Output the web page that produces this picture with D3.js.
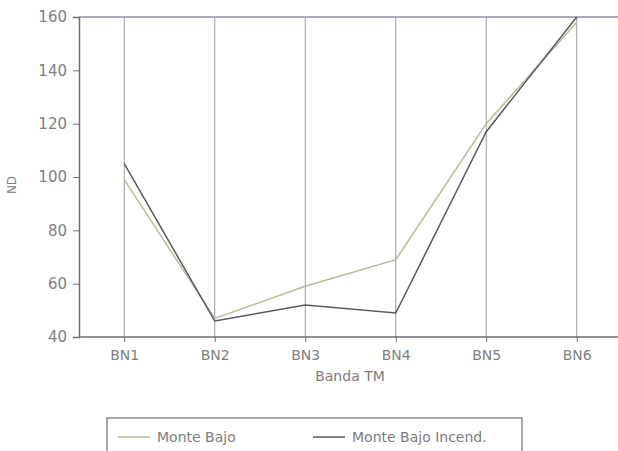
<!DOCTYPE html>
<html>
<head>
<meta charset="utf-8">
<script src="https://cdn.jsdelivr.net/npm/d3@7"></script>
<style>
  body { margin: 0; background: #fff; }
  text { font-family: "DejaVu Sans", sans-serif; fill: #7c7c7c; }
</style>
</head>
<body>
<div id="chart"></div>
<script>
// data
const bands = ["BN1", "BN2", "BN3", "BN4", "BN5", "BN6"];
const monteBajo = [99, 47, 59, 69, 120, 158];
const monteBajoIncend = [105, 46, 52, 49, 117, 160];
const yTicks = [40, 60, 80, 100, 120, 140, 160];

const width = 618, height = 451;
const margins = {top: 17, left: 79, bottom: 337};

const svg = d3.select("#chart").append("svg")
    .attr("width", width)
    .attr("height", height);

const x = d3.scalePoint().domain(bands).range([margins.left, 622]).padding(0.5);
const y = d3.scaleLinear().domain([40, 160]).range([margins.bottom, margins.top]);

// vertical grid at each band
svg.append("g").selectAll("line").data(bands).enter()
    .append("line")
    .attr("x1", d => x(d)).attr("x2", d => x(d))
    .attr("y1", y(160)).attr("y2", y(40))
    .attr("stroke", "#9a9a9a")
    .attr("stroke-width", 1);

// top frame line
svg.append("line")
    .attr("x1", margins.left).attr("x2", width)
    .attr("y1", y(160)).attr("y2", y(160))
    .attr("stroke", "#8c8fa6").attr("stroke-width", 1.5);

// y axis
const yAxis = d3.axisLeft(y).tickValues(yTicks).tickSize(6).tickPadding(6);
const gy = svg.append("g")
    .attr("transform", `translate(${margins.left},0)`)
    .call(yAxis);
gy.select(".domain").attr("stroke", "#6e6e6e").attr("stroke-width", 1.5);
gy.selectAll(".tick line").attr("stroke", "#6e6e6e");
gy.selectAll("text").style("font-size", "15px").style("fill", "#808080");

// x axis
const xAxis = d3.axisBottom(x).tickSize(5).tickPadding(8);
const gx = svg.append("g")
    .attr("transform", `translate(0,${margins.bottom})`)
    .call(xAxis);
gx.select(".domain").attr("stroke", "#6e6e6e").attr("stroke-width", 1.5).attr("d", `M${margins.left},0H${width}`);
gx.selectAll(".tick line").attr("stroke", "#6e6e6e");
gx.selectAll("text").style("font-size", "14px").style("fill", "#808080");

// axis titles
svg.append("text")
    .attr("x", 350).attr("y", 381)
    .attr("text-anchor", "middle")
    .style("font-size", "14px")
    .text("Banda TM");

svg.append("text")
    .attr("transform", "translate(16,185) rotate(-90)")
    .attr("text-anchor", "middle")
    .style("font-size", "12px")
    .text("ND");

// series
const line = d3.line().x((d, i) => x(bands[i])).y(d => y(d));
const series = [
    {name: "Monte Bajo", values: monteBajo, color: "#b5bc98"},
    {name: "Monte Bajo Incend.", values: monteBajoIncend, color: "#5f5560"},
];

svg.append("g").selectAll("path").data(series).enter()
    .append("path")
    .attr("d", d => line(d.values))
    .attr("fill", "none")
    .attr("stroke", d => d.color)
    .attr("stroke-width", 1.5);

// legend
const legend = svg.append("g");
legend.append("rect")
    .attr("x", 107).attr("y", 418)
    .attr("width", 415).attr("height", 45)
    .attr("fill", "none")
    .attr("stroke", "#6e6e6e").attr("stroke-width", 1.2);

const legendX = [118, 313];
series.forEach((s, i) => {
    legend.append("line")
        .attr("x1", legendX[i]).attr("x2", legendX[i] + 32)
        .attr("y1", 437).attr("y2", 437)
        .attr("stroke", s.color).attr("stroke-width", 1.5);
    legend.append("text")
        .attr("x", legendX[i] + 39).attr("y", 442)
        .style("font-size", "14px")
        .text(s.name);
});
</script>
</body>
</html>
